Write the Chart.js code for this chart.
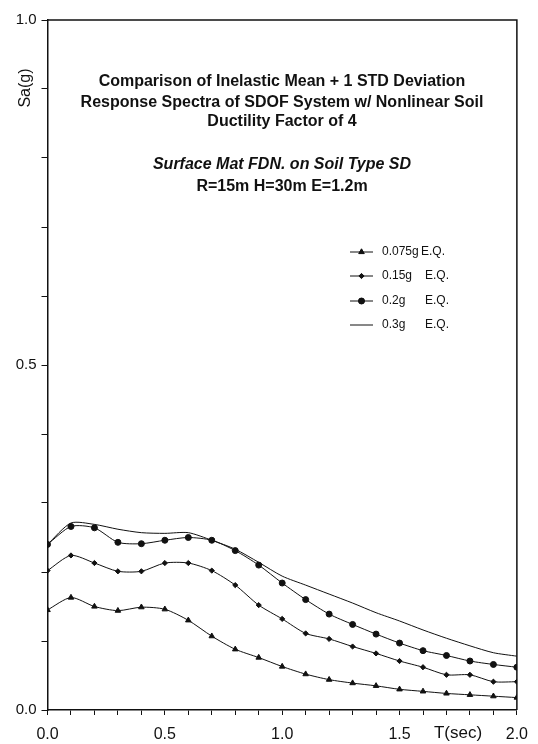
<!DOCTYPE html>
<html>
<head>
<meta charset="utf-8">
<script src="https://cdn.jsdelivr.net/npm/chart.js@4/dist/chart.umd.min.js"></script>
<style>
  html, body { margin: 0; padding: 0; background: #fff; }
  #wrap { width: 538px; height: 744px; position: relative; }
</style>
</head>
<body>
<div id="wrap"><canvas id="chart"></canvas></div>
<script>
// period T (sec)
var periods = [0.0, 0.1, 0.2, 0.3, 0.4, 0.5, 0.6, 0.7, 0.8, 0.9, 1.0,
               1.1, 1.2, 1.3, 1.4, 1.5, 1.6, 1.7, 1.8, 1.9, 2.0];

// Sa(g) for each earthquake level
var sa0075 = [0.145, 0.163, 0.150, 0.144, 0.149, 0.146, 0.130, 0.107, 0.088, 0.076, 0.063,
              0.052, 0.044, 0.039, 0.035, 0.030, 0.027, 0.024, 0.022, 0.020, 0.018];
var sa015 = [0.202, 0.224, 0.213, 0.201, 0.201, 0.213, 0.213, 0.202, 0.181, 0.152, 0.132,
             0.111, 0.103, 0.092, 0.082, 0.071, 0.062, 0.051, 0.051, 0.041, 0.041];
var sa02 = [0.240, 0.266, 0.264, 0.243, 0.241, 0.246, 0.250, 0.246, 0.231, 0.210, 0.184,
            0.160, 0.139, 0.124, 0.110, 0.097, 0.086, 0.079, 0.071, 0.066, 0.062];
var sa03 = [0.240, 0.271, 0.269, 0.262, 0.257, 0.256, 0.257, 0.246, 0.233, 0.214, 0.194,
            0.181, 0.168, 0.155, 0.141, 0.129, 0.116, 0.104, 0.093, 0.083, 0.078];

var seriesLabels = ['0.075g', '0.15g', '0.2g', '0.3g'];
var xTickLabels = ['0.0', '0.5', '1.0', '1.5', '2.0'];
var yTickLabels = ['0.0', '0.5', '1.0'];

var titleLines = [
    'Comparison of Inelastic Mean + 1 STD Deviation',
    'Response Spectra of SDOF System w/ Nonlinear Soil',
    'Ductility Factor of 4'
];
var subtitleLines = [
    'Surface Mat FDN. on Soil Type SD',
    'R=15m H=30m E=1.2m'
];

var FONT = '"Liberation Sans", Arial, sans-serif';
var INK = '#111';

function toPoints(values) {
    var pts = [];
    for (var i = 0; i < periods.length; i++) {
        pts.push({ x: periods[i], y: values[i] });
    }
    return pts;
}

function makeDataset(label, values, style, radius) {
    return {
        label: label,
        data: toPoints(values),
        borderColor: INK,
        backgroundColor: INK,
        borderWidth: 1,
        pointStyle: style,
        pointRadius: radius,
        pointBorderWidth: 1,
        pointBorderColor: INK,
        pointBackgroundColor: INK,
        tension: 0.25,
        fill: false
    };
}

var datasets = [
    makeDataset(seriesLabels[0], sa0075, 'triangle', 3.2),
    makeDataset(seriesLabels[1], sa015, 'rectRot', 2.6),
    makeDataset(seriesLabels[2], sa02, 'circle', 3.0),
    makeDataset(seriesLabels[3], sa03, false, 0)
];

// frame, titles, axis names and the in-plot legend
var decorations = {
    id: 'decorations',
    afterDraw: function (chart) {
        var ctx = chart.ctx;
        var area = chart.chartArea;
        ctx.save();

        ctx.strokeStyle = INK;
        ctx.lineWidth = 1.5;
        ctx.beginPath();
        ctx.moveTo(area.left, area.top);
        ctx.lineTo(area.right, area.top);
        ctx.lineTo(area.right, area.bottom);
        ctx.stroke();

        ctx.fillStyle = INK;
        ctx.textAlign = 'center';
        ctx.textBaseline = 'middle';

        var cx = 282;
        ctx.font = 'bold 16px ' + FONT;
        var ys = [82, 103, 122];
        for (var i = 0; i < titleLines.length; i++) {
            ctx.fillText(titleLines[i], cx, ys[i]);
        }
        ctx.font = 'italic bold 16px ' + FONT;
        ctx.fillText(subtitleLines[0], cx, 165);
        ctx.font = 'bold 16px ' + FONT;
        ctx.fillText(subtitleLines[1], cx, 187);

        // axis names
        ctx.font = '17px ' + FONT;
        ctx.fillText('T(sec)', 458, 733);
        ctx.save();
        ctx.font = '16px ' + FONT;
        ctx.translate(26, 88);
        ctx.rotate(-Math.PI / 2);
        ctx.fillText('Sa(g)', 0, 0);
        ctx.restore();

        // legend
        var legendY = [252, 276, 301, 325];
        ctx.font = '12px ' + FONT;
        ctx.textAlign = 'left';
        for (var j = 0; j < chart.data.datasets.length; j++) {
            var ds = chart.data.datasets[j];
            var y = legendY[j];
            ctx.strokeStyle = INK;
            ctx.lineWidth = 1;
            ctx.beginPath();
            ctx.moveTo(350, y);
            ctx.lineTo(373, y);
            ctx.stroke();
            if (ds.pointStyle) {
                Chart.helpers.drawPoint(ctx, {
                    pointStyle: ds.pointStyle,
                    radius: ds.pointRadius,
                    borderWidth: 1,
                    rotation: 0
                }, 361.5, y);
                ctx.fill();
            }
            ctx.fillStyle = INK;
            ctx.fillText(ds.label, 382, y);
            ctx.fillText('E.Q.', j === 0 ? 421 : 425, y);
        }
        ctx.restore();
    }
};

new Chart(document.getElementById('chart'), {
    type: 'line',
    data: { datasets: datasets },
    options: {
        responsive: true,
        maintainAspectRatio: false,
        animation: false,
        layout: { padding: { top: 20, right: 21, left: 0, bottom: 0 } },
        plugins: {
            legend: { display: false },
            tooltip: { enabled: false }
        },
        scales: {
            x: {
                type: 'linear',
                min: 0,
                max: 2,
                afterFit: function (scale) { scale.height = 34; },
                afterBuildTicks: function (scale) {
                    var t = [];
                    for (var i = 0; i <= 20; i++) t.push({ value: i / 10 });
                    scale.ticks = t;
                },
                ticks: {
                    color: INK,
                    font: { family: FONT, size: 16 },
                    padding: 10,
                    maxRotation: 0,
                    autoSkip: false,
                    callback: function (v) {
                        var k = Math.round(v * 10);
                        return k % 5 === 0 ? xTickLabels[k / 5] : '';
                    }
                },
                grid: { drawOnChartArea: false, drawTicks: true, tickLength: 5, color: INK, lineWidth: 1 },
                border: { color: INK, width: 1.5 }
            },
            y: {
                type: 'linear',
                min: 0,
                max: 1,
                afterFit: function (scale) { scale.width = 47.5; },
                afterBuildTicks: function (scale) {
                    var t = [];
                    for (var i = 0; i <= 10; i++) t.push({ value: i / 10 });
                    scale.ticks = t;
                },
                ticks: {
                    color: INK,
                    font: { family: FONT, size: 15 },
                    padding: 5,
                    autoSkip: false,
                    callback: function (v) {
                        var k = Math.round(v * 10);
                        return k % 5 === 0 ? yTickLabels[k / 5] : '';
                    }
                },
                grid: { drawOnChartArea: false, drawTicks: true, tickLength: 6, color: INK, lineWidth: 1 },
                border: { color: INK, width: 1.5 }
            }
        }
    },
    plugins: [decorations]
});
</script>
</body>
</html>
